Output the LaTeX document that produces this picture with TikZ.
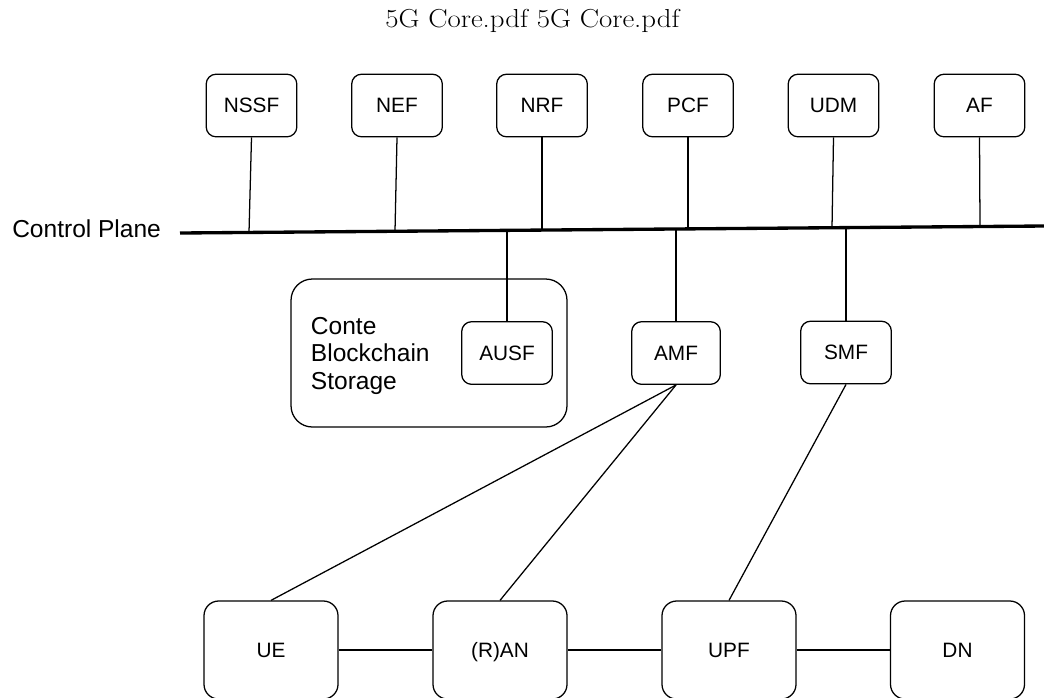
\documentclass[tikz,border=0pt]{standalone}
\usepackage{fontspec}
\setsansfont{Liberation Sans}
\usepackage{graphicx}
\begin{document}
\begin{tikzpicture}[x=0.75pt,y=-0.75pt,
  nf/.style={draw=black, line width=0.95pt, rounded corners=7.5pt,
    minimum width=68pt, minimum height=47pt, inner sep=0pt,
    text height=11pt, text depth=0pt,
    font=\sffamily\fontsize{15.6}{18}\selectfont},
  endbox/.style={nf, rounded corners=11pt, minimum width=100.5pt, minimum height=73.5pt},
  groupbox/.style={draw=black, line width=0.95pt, rounded corners=16pt,
    minimum width=207pt, minimum height=111pt, inner sep=0pt},
  link/.style={draw=black, line width=0.95pt},
  bus/.style={draw=black, line width=2.5pt},
  bigtext/.style={font=\sffamily\fontsize{18.4}{21}\selectfont, inner sep=0pt},
]
\useasboundingbox (0,0) rectangle (1044,697);

% heading
\node[anchor=base, inner sep=0pt, font=\fontsize{19.5}{22}\selectfont] (title) at (532.5,27)
  {\scalebox{1.11}[1]{5G Core.pdf 5G Core.pdf}};

% control plane bus
\coordinate (cpL) at (180,233);
\coordinate (cpR) at (1044,226);
\draw[bus] (cpL) -- (cpR);
\node[bigtext, anchor=base west] (cplabel) at (12,237) {Control Plane};

% network functions attached to the bus
\node[nf] (nssf) at (251.5,105.5) {NSSF};
\node[nf] (nef)  at (397,105.5)   {NEF};
\node[nf] (nrf)  at (542,105.5)   {NRF};
\node[nf] (pcf)  at (688,105.5)   {PCF};
\node[nf] (udm)  at (833.5,105.5) {UDM};
\node[nf] (af)   at (979.5,105.5) {AF};

\coordinate (b1) at (249,232.4);
\coordinate (b2) at (395,231.3);
\coordinate (b3) at (542,230.1);
\coordinate (b4) at (688,228.9);
\coordinate (b5) at (832,227.7);
\coordinate (b6) at (980,226.5);
\coordinate (b7) at (507,230.3);
\coordinate (b8) at (676,229.0);
\coordinate (b9) at (846,227.6);

\draw[link] (nssf.south) -- (b1);
\draw[link] (nef.south)  -- (b2);
\draw[link] (nrf.south)  -- (b3);
\draw[link] (pcf.south)  -- (b4);
\draw[link] (udm.south)  -- (b5);
\draw[link] (af.south)   -- (b6);

% blockchain storage group with AUSF
\node[groupbox] (store) at (429,353) {};
\node[bigtext, anchor=base west] (st1) at (310.7,334)   {Conte};
\node[bigtext, anchor=base west] (st2) at (310.7,361.7) {Blockchain};
\node[bigtext, anchor=base west] (st3) at (310.7,389.4) {Storage};
\node[nf] (ausf) at (507,353) {AUSF};
\node[nf, minimum width=66.5pt] (amf) at (676,353) {AMF};
\node[nf] (smf) at (846,352.5) {SMF};

\draw[link] (ausf.north) -- (b7);
\draw[link] (amf.north)  -- (b8);
\draw[link] (smf.north)  -- (b9);

% user plane
\node[endbox] (ue)  at (271,650)   {UE};
\node[endbox] (ran) at (500,650)   {(R)AN};
\node[endbox] (upf) at (729,650)   {UPF};
\node[endbox] (dn)  at (957.5,650) {DN};

\draw[link] (ue.east)  -- (ran.west);
\draw[link] (ran.east) -- (upf.west);
\draw[link] (upf.east) -- (dn.west);

\draw[link] (amf.south) -- (ue.north);
\draw[link] (amf.south) -- (ran.north);
\draw[link] (smf.south) -- (upf.north);
\end{tikzpicture}
\end{document}
